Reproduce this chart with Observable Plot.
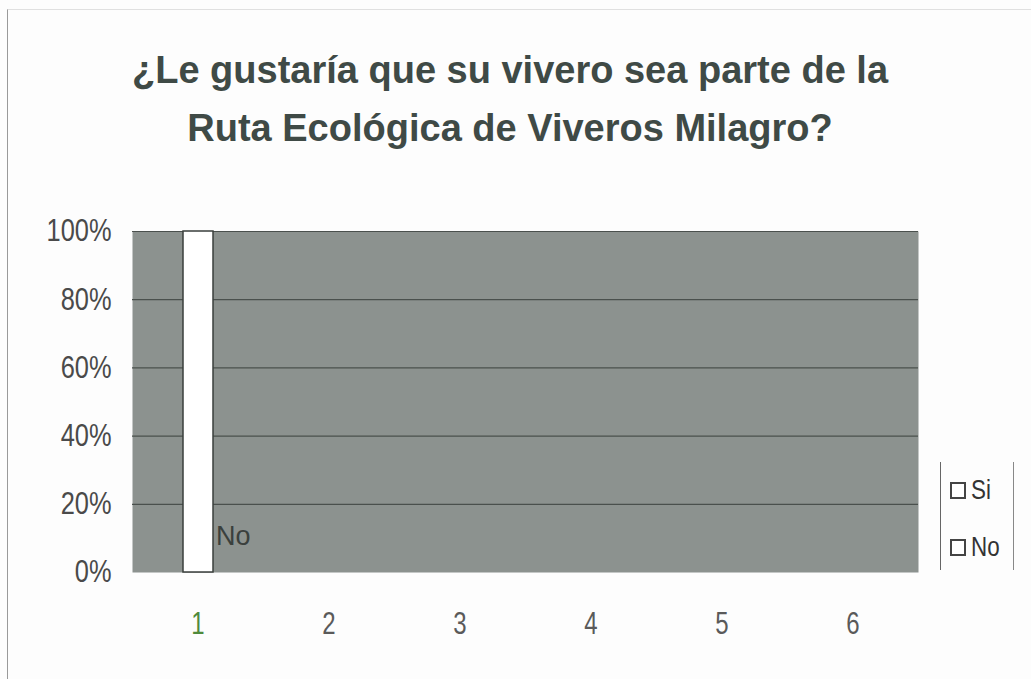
<!DOCTYPE html>
<html>
<head>
<meta charset="utf-8">
<script src="https://cdn.jsdelivr.net/npm/d3@7"></script>
<script src="https://cdn.jsdelivr.net/npm/@observablehq/plot@0.6"></script>
<style>
  html, body { margin: 0; padding: 0; background: #ffffff; }
  #wrap { position: relative; width: 1031px; height: 679px; overflow: hidden; background: #fdfdfd; }
  #frame { position: absolute; left: 7px; top: 9px; width: 1100px; height: 700px; border-left: 1.5px solid #9a9a9a; border-top: 1px solid #e0e0e0; }
  #title { position: absolute; left: 0; top: 41px; width: 1020px; text-align: center;
           font-family: "Liberation Sans", Arial, sans-serif; font-weight: bold; font-size: 38px;
           line-height: 58px; color: #3f4a46; }
  #legend { position: absolute; left: 940px; top: 462px; width: 74px; height: 108px;
            border-left: 1.5px solid #666; border-right: 1.5px solid #888; box-sizing: border-box;
            font-family: "Liberation Sans", Arial, sans-serif; font-size: 28px; color: #333; }
  .item { position: absolute; left: 9px; display: flex; align-items: center; }
  .sw { width: 12px; height: 13px; border: 2px solid #444; background: #fff; margin-right: 5px; }
  .nm { display: inline-block; transform: scaleX(0.8); transform-origin: left center; }
  svg { position: absolute; left: 0; top: 0; }
</style>
</head>
<body>
<div id="wrap">
  <div id="frame"></div>
  <div id="chart"></div>
  <div id="title">¿Le gustaría que su vivero sea parte de la<br>Ruta Ecológica de Viveros Milagro?</div>
  <div id="legend"></div>
</div>
<script>
// Data
const categories = [1, 2, 3, 4, 5, 6];
const seriesNames = ["Si", "No"];
const siValues = [1, 0, 0, 0, 0, 0];
const noValues = [0, 0, 0, 0, 0, 0];
const dataLabels = ["No", "", "", "", "", ""];
const yTicks = [0, 0.2, 0.4, 0.6, 0.8, 1];

const bars = categories.map((c, i) => ({cat: c, si: siValues[i], no: noValues[i], label: dataLabels[i]}));

const chart = Plot.plot({
  width: 1031,
  height: 679,
  marginLeft: 132,
  marginRight: 113,
  marginTop: 231,
  marginBottom: 107,
  style: {background: "transparent", overflow: "visible"},
  x: {type: "band", domain: categories, padding: 0},
  y: {domain: [0, 1]},
  color: {type: "identity"},
  marks: [
    Plot.frame({fill: "#8c928f", stroke: "none"}),
    Plot.ruleY(yTicks.slice(1), {stroke: "#4a504d", strokeWidth: 1.2}),
    Plot.barY(bars.filter(d => d.si > 0), {x: "cat", y1: 0, y2: "si", fill: "#ffffff", stroke: "#3a3f3c", strokeWidth: 1.5, insetLeft: 51, insetRight: 50}),
    Plot.text(bars.filter(d => d.label), {x: "cat", y: "no", text: "label", textAnchor: "start", dx: 18, dy: -36,
      fontSize: 27, fill: "#3a403d", fontFamily: "Liberation Sans, Arial, sans-serif", ariaLabel: "datalabel"}),
    Plot.axisY({ticks: yTicks, tickFormat: d3.format(".0%"), tickSize: 0, tickPadding: 21, fontSize: 31,
      fill: "#4a4a4a", fontFamily: "Liberation Sans, Arial, sans-serif", label: null}),
    Plot.axisX({tickSize: 0, tickPadding: 39, fontSize: 32,
      fill: d => d === 1 ? "#4f8a3c" : "#5a5a5a",
      fontFamily: "Liberation Sans, Arial, sans-serif", label: null})
  ]
});
document.getElementById("chart").appendChild(chart);

// condense text horizontally, like the narrow font of the original
function condense(sel, s) {
  chart.querySelectorAll(sel).forEach(el => {
    const t = el.getAttribute("transform") || "";
    el.setAttribute("transform", `${t} scale(${s},1)`);
  });
}
condense('g[aria-label="y-axis tick label"] text', 0.82);
condense('g[aria-label="x-axis tick label"] text', 0.75);
condense('g[aria-label="datalabel"] text', 0.75);

const legend = document.getElementById("legend");
seriesNames.forEach((name, i) => {
  const it = document.createElement("div");
  it.className = "item";
  it.style.top = (12 + i * 57) + "px";
  it.innerHTML = `<span class="sw"></span><span class="nm">${name}</span>`;
  legend.appendChild(it);
});
</script>
</body>
</html>
